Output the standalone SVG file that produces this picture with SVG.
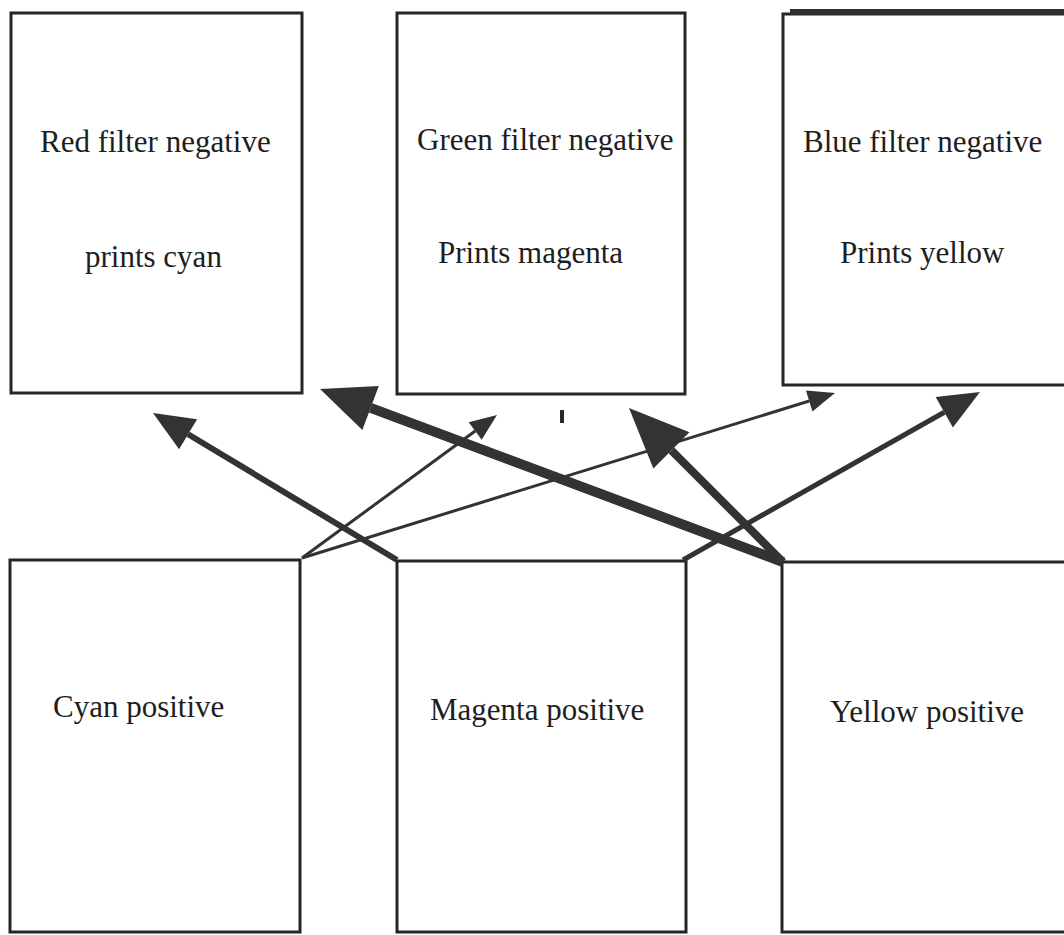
<svg xmlns="http://www.w3.org/2000/svg" width="1064" height="935" viewBox="0 0 1064 935">
  <style>
    .box { fill: #ffffff; stroke: #262626; stroke-width: 3; }
    .label { font-family: "Liberation Serif", "Times New Roman", serif; font-size: 31px; fill: #1e1e1e; }
    .arrow { stroke: #333333; fill: none; stroke-linecap: butt; }
    .head { fill: #333333; }
  </style>
  <defs>
    <!-- arrowheads in user units; each line stops at the base of its head -->
    <marker id="head-s" markerUnits="userSpaceOnUse" markerWidth="27" markerHeight="22" refX="0" refY="11" orient="auto" overflow="visible">
      <path class="head" d="M0,0 L27,11 L0,22 Z"/>
    </marker>
    <marker id="head-m" markerUnits="userSpaceOnUse" markerWidth="41" markerHeight="35" refX="0" refY="17.5" orient="auto" overflow="visible">
      <path class="head" d="M0,0 L41,17.5 L0,35 Z"/>
    </marker>
    <marker id="head-l" markerUnits="userSpaceOnUse" markerWidth="54" markerHeight="47" refX="0" refY="23.5" orient="auto" overflow="visible">
      <path class="head" d="M0,0 L54,23.5 L0,47 Z"/>
    </marker>
    <marker id="head-xl" markerUnits="userSpaceOnUse" markerWidth="60" markerHeight="51" refX="0" refY="25.5" orient="auto" overflow="visible">
      <path class="head" d="M0,0 L60,25.5 L0,51 Z"/>
    </marker>
  </defs>

  <rect x="0" y="0" width="1064" height="935" fill="#ffffff"/>

  <!-- negatives (top row) -->
  <g id="red-negative">
    <rect class="box" x="11" y="13" width="291" height="380"/>
    <text class="label" x="40" y="152">Red filter negative</text>
    <text class="label" x="85" y="267">prints cyan</text>
  </g>
  <g id="green-negative">
    <rect class="box" x="397" y="13" width="288" height="381"/>
    <text class="label" x="417" y="150">Green filter negative</text>
    <text class="label" x="438" y="263">Prints magenta</text>
  </g>
  <g id="blue-negative">
    <rect class="box" x="783" y="14" width="300" height="371"/>
    <line x1="790" y1="12" x2="1064" y2="12" stroke="#2e2e2e" stroke-width="6"/>
    <text class="label" x="803" y="152">Blue filter negative</text>
    <text class="label" x="840" y="263">Prints yellow</text>
  </g>

  <!-- positives (bottom row) -->
  <g id="cyan-positive">
    <rect class="box" x="10" y="560" width="290" height="372"/>
    <text class="label" x="53" y="717">Cyan positive</text>
  </g>
  <g id="magenta-positive">
    <rect class="box" x="397" y="561" width="289" height="371"/>
    <text class="label" x="430" y="720">Magenta positive</text>
  </g>
  <g id="yellow-positive">
    <rect class="box" x="782" y="562" width="300" height="370"/>
    <text class="label" x="830" y="722">Yellow positive</text>
  </g>

  <!-- connectors -->
  <g id="connectors">
    <line class="arrow" x1="397" y1="560" x2="188.1" y2="434.2" stroke-width="6" marker-end="url(#head-m)"/>
    <line class="arrow" x1="302" y1="558" x2="475.2" y2="431" stroke-width="3" marker-end="url(#head-s)"/>
    <line class="arrow" x1="302" y1="558" x2="809.2" y2="401" stroke-width="3" marker-end="url(#head-s)"/>
    <line class="arrow" x1="783" y1="562" x2="370.6" y2="407.9" stroke-width="10" marker-end="url(#head-l)"/>
    <line class="arrow" x1="783" y1="562" x2="671.4" y2="450.4" stroke-width="8" marker-end="url(#head-xl)"/>
    <line class="arrow" x1="683" y1="560" x2="944.3" y2="412.2" stroke-width="5" marker-end="url(#head-m)"/>
  </g>

  <!-- small stray mark below the green negative -->
  <line x1="562" y1="410" x2="562" y2="423" stroke="#2a2a2a" stroke-width="4"/>
</svg>
